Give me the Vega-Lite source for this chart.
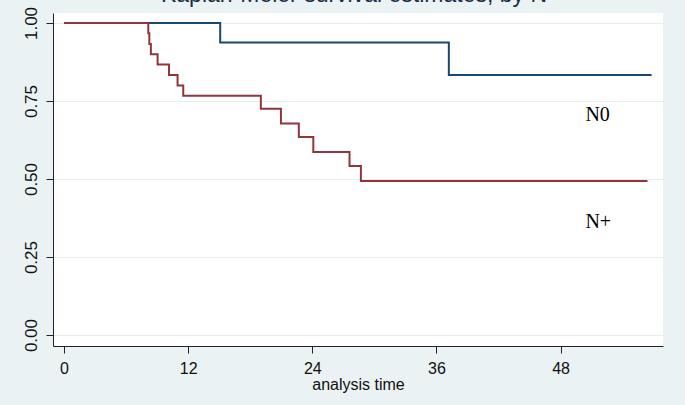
{
  "$schema": "https://vega.github.io/schema/vega-lite/v6.json",
  "autosize": {"type": "none"},
  "width": 610,
  "height": 333,
  "padding": {"left": 53, "top": 13, "right": 22, "bottom": 59},
  "background": "#eaf2f3",
  "title": {
    "text": "Kaplan-Meier survival estimates, by N",
    "font": "Liberation Sans",
    "fontSize": 23,
    "fontWeight": "normal",
    "color": "#1e2d45",
    "anchor": "middle",
    "offset": -19,
    "dx": -4,
    "baseline": "alphabetic"
  },
  "config": {
    "view": {"fill": "white", "stroke": null},
    "axis": {
      "labelFont": "Liberation Sans",
      "titleFont": "Liberation Sans",
      "labelColor": "#111111",
      "titleColor": "#111111",
      "domainColor": "#222222",
      "tickColor": "#222222",
      "labelFontSize": 16,
      "titleFontSize": 16,
      "titleFontWeight": "normal",
      "tickSize": 7
    }
  },
  "datasets": {
    "km": [
      {"group": "N0", "t": 0, "s": 1.0},
      {"group": "N0", "t": 15.1, "s": 0.9375},
      {"group": "N0", "t": 37.2, "s": 0.833},
      {"group": "N0", "t": 56.8, "s": 0.833},
      {"group": "N+", "t": 0, "s": 1.0},
      {"group": "N+", "t": 8.15, "s": 0.967},
      {"group": "N+", "t": 8.25, "s": 0.933},
      {"group": "N+", "t": 8.4, "s": 0.9},
      {"group": "N+", "t": 9.05, "s": 0.867},
      {"group": "N+", "t": 10.15, "s": 0.833},
      {"group": "N+", "t": 10.98, "s": 0.8},
      {"group": "N+", "t": 11.53, "s": 0.767},
      {"group": "N+", "t": 19.03, "s": 0.725},
      {"group": "N+", "t": 20.97, "s": 0.678},
      {"group": "N+", "t": 22.7, "s": 0.635},
      {"group": "N+", "t": 24.1, "s": 0.587},
      {"group": "N+", "t": 27.6, "s": 0.542},
      {"group": "N+", "t": 28.7, "s": 0.494},
      {"group": "N+", "t": 56.4, "s": 0.494}
    ],
    "labels": [
      {"label": "N0", "t": 50.4, "s": 0.705},
      {"label": "N+", "t": 50.4, "s": 0.362}
    ]
  },
  "layer": [
    {
      "data": {"name": "km"},
      "transform": [{"filter": "datum.group === 'N0'"}],
      "mark": {"type": "line", "interpolate": "step-after", "color": "#1a476f", "strokeWidth": 2},
      "encoding": {
        "x": {
          "field": "t", "type": "quantitative",
          "scale": {"domain": [-1.06, 57.9], "nice": false, "zero": false},
          "axis": {"values": [0, 12, 24, 36, 48], "title": "analysis time", "grid": false, "labelPadding": 7, "titlePadding": 0}
        },
        "y": {
          "field": "s", "type": "quantitative",
          "scale": {"domain": [-0.035, 1.032], "nice": false, "zero": false},
          "axis": {"values": [0, 0.25, 0.5, 0.75, 1], "format": ".2f", "title": null, "grid": true, "gridColor": "#e4eef0", "gridWidth": 1.2, "labelAngle": 270, "labelAlign": "center", "labelBaseline": "bottom", "labelPadding": 6, "labelFontSize": 17}
        }
      }
    },
    {
      "data": {"name": "km"},
      "transform": [{"filter": "datum.group === 'N+'"}],
      "mark": {"type": "line", "interpolate": "step-after", "color": "#90353b", "strokeWidth": 2},
      "encoding": {
        "x": {"field": "t", "type": "quantitative"},
        "y": {"field": "s", "type": "quantitative"}
      }
    },
    {
      "data": {"name": "labels"},
      "mark": {"type": "text", "font": "Liberation Serif", "fontSize": 20, "align": "left", "baseline": "middle", "color": "#000000"},
      "encoding": {
        "x": {"field": "t", "type": "quantitative"},
        "y": {"field": "s", "type": "quantitative"},
        "text": {"field": "label"}
      }
    }
  ]
}
